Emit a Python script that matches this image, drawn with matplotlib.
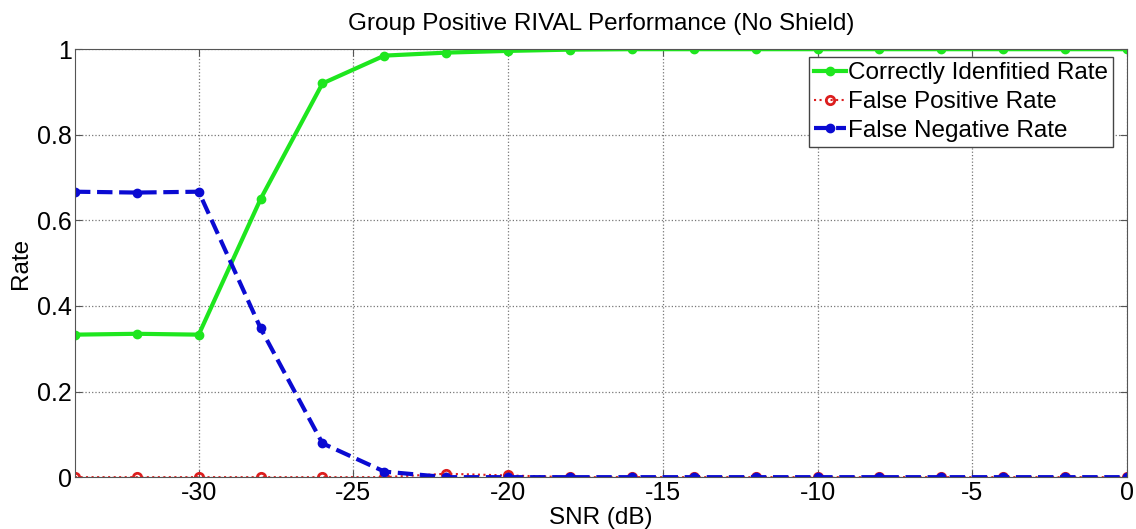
import numpy as np
import matplotlib.pyplot as plt

plt.rcParams['font.family'] = ['Liberation Sans', 'DejaVu Sans']
plt.rcParams['axes.unicode_minus'] = False

# SNR sweep (dB)
snr = np.arange(-34, 1, 2)

# rates per SNR point
correct_rate = [0.333, 0.335, 0.333, 0.650, 0.920, 0.985, 0.992, 0.996, 0.999,
                1.0, 1.0, 1.0, 1.0, 1.0, 1.0, 1.0, 1.0, 1.0]
false_pos_rate = [0.0, 0.0, 0.0, 0.0, 0.0, 0.0, 0.008, 0.004, 0.0,
                  0.0, 0.0, 0.0, 0.0, 0.0, 0.0, 0.0, 0.0, 0.0]
false_neg_rate = [0.667, 0.665, 0.667, 0.348, 0.079, 0.013, 0.0, 0.0, 0.0,
                  0.0, 0.0, 0.0, 0.0, 0.0, 0.0, 0.0, 0.0, 0.0]

fig = plt.figure(figsize=(11.36, 5.29), dpi=100)
ax = fig.add_axes([0.066, 0.098, 0.926, 0.809])

ax.plot(snr, correct_rate, '-o', color='#1ee61e', lw=3, ms=6,
        label='Correctly Idenfitied Rate')
ax.plot(snr, false_pos_rate, ':o', color='#dc1e1e', lw=1.5, ms=6, mfc='none',
        mew=2, label='False Positive Rate')
ax.plot(snr, false_neg_rate, '--o', color='#0a0ad2', lw=3, ms=6,
        label='False Negative Rate')

ax.set_xlim(-34, 0)
ax.set_ylim(0, 1)
ax.set_xticks([-30, -25, -20, -15, -10, -5, 0])
ax.set_yticks([0, 0.2, 0.4, 0.6, 0.8, 1])
ax.set_yticklabels(['0', '0.2', '0.4', '0.6', '0.8', '1'])
ax.tick_params(direction='in', labelsize=18, top=True, right=True,
               length=5, color='#555555')
ax.tick_params(axis='y', pad=2)
ax.tick_params(axis='x', pad=3)
ax.grid(True, linestyle=':', color='#777777', lw=0.9)
for s in ax.spines.values():
    s.set_color('#555555')

ax.set_xlabel('SNR (dB)', fontsize=17.5, labelpad=1)
ax.set_ylabel('Rate', fontsize=17.5, labelpad=4)
ax.set_title('Group Positive RIVAL Performance (No Shield)', fontsize=17.5, pad=14)

leg = ax.legend(loc='upper right', bbox_to_anchor=(0.987, 0.981), fontsize=17.5,
                fancybox=False, edgecolor='#444444', framealpha=1,
                handlelength=1.3, handletextpad=0.1, borderpad=0.2,
                labelspacing=0.28, borderaxespad=0)
leg.get_frame().set_linewidth(1)

fig.savefig('out.png', dpi=100)
